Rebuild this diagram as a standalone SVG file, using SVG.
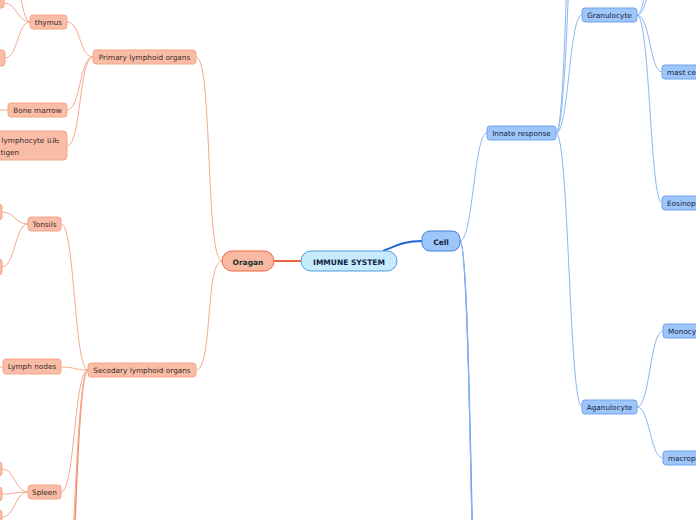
<svg xmlns="http://www.w3.org/2000/svg" width="696" height="520" viewBox="0 0 696 520">
<style>
text{font-family:"DejaVu Sans","Liberation Sans",sans-serif;}
.o rect{fill:#f9bca7;stroke:#f6a587;stroke-width:1;}
.o text{fill:#3a2a26;font-size:7.3px;}
.b rect{fill:#9fc6fb;stroke:#6ea3ee;stroke-width:1;}
.b text{fill:#15243a;font-size:7.3px;}
.lo{fill:none;stroke:#f8a98c;stroke-width:1;}
.lo2{fill:none;stroke:#f58a66;stroke-width:1.4;}
.lb{fill:none;stroke:#8cb7f2;stroke-width:1;}
.lb2{fill:none;stroke:#4f8ee8;stroke-width:1.4;}
</style>
<rect width="696" height="520" fill="#ffffff"/>
<g id="connectors">
  <path d="M301,261 L274,261" fill="none" stroke="#f0643c" stroke-width="2"/>
  <path d="M383,251 C398,245 405,241 422,241" fill="none" stroke="#1f66d4" stroke-width="2"/>
  <path class="lo" d="M222,261 C205,261 213,57 196,57"/>
  <path class="lo" d="M222,261 C205,261 213,370 196,370"/>
  <path class="lo" d="M93,57 C79,57 81,22 67,22"/>
  <path class="lo" d="M93,57 C79,57 81,110 67,110"/>
  <path class="lo" d="M93,57 C79,57 81,146 67,146"/>
  <path class="lo" d="M30,22 C17,22 17,3 4,3"/>
  <path class="lo" d="M30,22 C20,22 20,-40 10,-40"/>
  <path class="lo" d="M30,22 C17,22 18,58 5,58"/>
  <path class="lo" d="M8,110 L0,110"/>
  <path class="lo" d="M88,370 C74,370 75,224 61,224"/>
  <path class="lo" d="M88,370 C74,370 75,367 61,367"/>
  <path class="lo" d="M88,370 C74,370 75,492 61,492"/>
  <path class="lo2" d="M88,370 C74,370 74,720 61,720"/>
  <path class="lo" d="M88,370 C75,370 74,640 61,640"/>
  <path class="lo" d="M28,224 C15,224 15,212 2,212"/>
  <path class="lo" d="M28,224 C15,224 15,267 2,267"/>
  <path class="lo" d="M3,367 L0,367"/>
  <path class="lo" d="M28,492 C15,492 15,469 2,469"/>
  <path class="lo" d="M28,492 C15,492 15,494 2,494"/>
  <path class="lo" d="M28,492 C15,492 15,517 2,517"/>
  <path class="lb" d="M460,241 C473,241 474,133 487,133"/>
  <path class="lb2" d="M460,241 C473,241 473,900 487,900"/>
  <path class="lb" d="M460,241 C474,241 472,960 487,960"/>
  <path class="lb" d="M556,133 C569,133 569,15 582,15"/>
  <path class="lb" d="M556,133 C569,133 569,407 582,407"/>
  <path class="lb" d="M556,133 C569,133 568,-300 582,-300"/>
  <path class="lb" d="M556,133 C570,133 571,-240 582,-240"/>
  <path class="lb" d="M637,15 C650,15 650,72 662,72"/>
  <path class="lb" d="M637,15 C650,15 650,203 662,203"/>
  <path class="lb" d="M637,15 C650,15 649,-120 662,-120"/>
  <path class="lb" d="M637,15 C651,15 652,-60 662,-60"/>
  <path class="lb" d="M637,407 C650,407 650,331 663,331"/>
  <path class="lb" d="M637,407 C650,407 650,458 663,458"/>
</g>
<g id="immune-system">
  <rect x="301" y="251" width="96" height="20" rx="10" fill="#c7eafc" stroke="#4d9fdc" stroke-width="1"/>
  <text x="349" y="264.5" text-anchor="middle" font-size="7.5" font-weight="bold" fill="#0f2340">IMMUNE SYSTEM</text>
</g>
<g id="oragan">
  <rect x="222" y="251" width="52" height="20" rx="10" fill="#f8b9a3" stroke="#f0643c" stroke-width="1"/>
  <text x="248" y="264.5" text-anchor="middle" font-size="7.5" font-weight="bold" fill="#17332a">Oragan</text>
</g>
<g id="cell">
  <rect x="422" y="231" width="38" height="20" rx="8" fill="#9fc6fb" stroke="#3f80d8" stroke-width="1"/>
  <text x="441" y="244.5" text-anchor="middle" font-size="7.5" font-weight="bold" fill="#0f2340">Cell</text>
</g>
<g id="primary" class="o">
  <rect x="93" y="50" width="103" height="14" rx="3"/>
  <text x="144.5" y="59.7" text-anchor="middle">Primary lymphoid organs</text>
</g>
<g id="thymus" class="o">
  <rect x="30" y="15" width="37" height="14" rx="3"/>
  <text x="48.5" y="24.7" text-anchor="middle">thymus</text>
</g>
<g id="thymus-child-1" class="o">
  <rect x="-30" y="-6" width="34" height="14" rx="3"/>
</g>
<g id="thymus-child-2" class="o">
  <rect x="-30" y="50" width="35" height="16" rx="3"/>
</g>
<g id="bone-marrow" class="o">
  <rect x="8" y="103" width="59" height="14" rx="3"/>
  <text x="37.5" y="112.7" text-anchor="middle">Bone marrow</text>
</g>
<g id="lymphocyte-antigen" class="o">
  <rect x="-30" y="131" width="97" height="29" rx="4"/>
  <text x="1.5" y="142.5">lymphocyte และ</text>
  <text x="0.5" y="154.5">tigen</text>
</g>
<g id="secondary" class="o">
  <rect x="88" y="363" width="108" height="14" rx="3"/>
  <text x="142" y="372.7" text-anchor="middle">Secodary lymphoid organs</text>
</g>
<g id="tonsils" class="o">
  <rect x="28" y="217" width="33" height="14" rx="3"/>
  <text x="44.5" y="226.7" text-anchor="middle">Tonsils</text>
</g>
<g id="tonsils-child-1" class="o">
  <rect x="-30" y="204" width="32" height="16" rx="3"/>
</g>
<g id="tonsils-child-2" class="o">
  <rect x="-30" y="259" width="32" height="16" rx="3"/>
</g>
<g id="lymph-nodes" class="o">
  <rect x="3" y="359" width="58" height="15" rx="3"/>
  <text x="32" y="369.2" text-anchor="middle">Lymph nodes</text>
</g>
<g id="spleen" class="o">
  <rect x="28" y="485" width="33" height="14" rx="3"/>
  <text x="44.5" y="494.7" text-anchor="middle">Spleen</text>
</g>
<g id="spleen-child-1" class="o">
  <rect x="-30" y="462" width="32" height="14" rx="3"/>
</g>
<g id="spleen-child-2" class="o">
  <rect x="-30" y="487" width="32" height="14" rx="3"/>
</g>
<g id="spleen-child-3" class="o">
  <rect x="-30" y="510" width="32" height="14" rx="3"/>
</g>
<g id="innate-response" class="b">
  <rect x="487" y="126" width="69" height="14" rx="3"/>
  <text x="521.5" y="135.7" text-anchor="middle">Innate response</text>
</g>
<g id="granulocyte" class="b">
  <rect x="582" y="8" width="55" height="14" rx="3"/>
  <text x="609.5" y="17.7" text-anchor="middle">Granulocyte</text>
</g>
<g id="mast-cell" class="b">
  <rect x="662" y="65" width="60" height="14" rx="3"/>
  <text x="667" y="74.7">mast cell</text>
</g>
<g id="eosinophil" class="b">
  <rect x="662" y="196" width="60" height="14" rx="3"/>
  <text x="667" y="205.7">Eosinophil</text>
</g>
<g id="aganulocyte" class="b">
  <rect x="582" y="400" width="55" height="14" rx="3"/>
  <text x="609.5" y="409.7" text-anchor="middle">Aganulocyte</text>
</g>
<g id="monocyte" class="b">
  <rect x="663" y="324" width="60" height="14" rx="3"/>
  <text x="668" y="333.7">Monocyte</text>
</g>
<g id="macrophage" class="b">
  <rect x="663" y="451" width="60" height="14" rx="3"/>
  <text x="668" y="460.7">macrophage</text>
</g>
</svg>
